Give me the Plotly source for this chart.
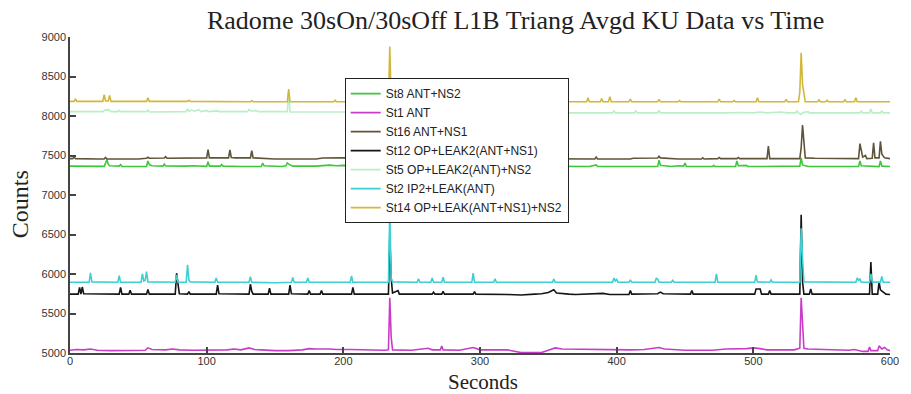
import plotly.graph_objects as go

# ---------------- data (seconds, counts) ----------------
st8 = [(0,7365),(10,7365),(20,7362),(25,7362),(26,7400),(27,7450),(28,7390),(29,7370),(36,7365),(37,7385),(38,7362),
       (50,7360),(56,7360),(57,7430),(58,7385),(60,7370),(68,7365),(69,7390),(70,7368),(85,7365),(90,7370),(100,7362),
       (101,7420),(102,7365),(110,7365),(111,7385),(112,7365),(125,7360),(140,7360),(141,7405),(142,7370),(155,7360),
       (158,7370),(159,7405),(160,7390),(163,7365),(180,7365),(190,7378),(195,7370),(200,7375),(300,7365),(380,7360),
       (385,7380),(386,7360),(430,7360),(431,7440),(432,7375),(440,7360),(445,7370),(449,7365),(450,7405),(451,7360),
       (470,7360),(471,7375),(472,7360),(487,7360),(488,7430),(489,7370),(495,7375),(496,7360),(534,7365),(535,7470),
       (536,7380),(540,7360),(577,7360),(578,7430),(579,7370),(592,7360),(593,7430),(594,7365),(600,7360)]

st1 = [(0,5035),(5,5045),(10,5040),(15,5050),(20,5035),(30,5030),(55,5035),(57,5065),(60,5045),(70,5040),(75,5050),
       (80,5040),(90,5035),(100,5035),(115,5040),(120,5050),(125,5040),(131,5065),(135,5045),(140,5040),(150,5030),
       (160,5030),(170,5040),(175,5055),(180,5050),(190,5050),(195,5045),(205,5045),(220,5035),(230,5035),(233,5040),
       (234,5700),(235,5200),(236,5040),(250,5035),(262,5060),(265,5040),(271,5040),(272,5090),(273,5040),(285,5035),
       (295,5070),(300,5040),(320,5040),(330,5005),(345,5005),(350,5035),(355,5065),(360,5050),(380,5045),(400,5045),
       (410,5040),(420,5045),(431,5070),(435,5050),(450,5035),(470,5035),(480,5050),(495,5055),(500,5065),(505,5055),
       (510,5040),(530,5040),(534,5060),(535,5700),(536,5300),(537,5060),(540,5050),(560,5045),(570,5035),(574,5045),
       (580,5020),(584,5020),(585,5075),(586,5030),(591,5030),(592,5090),(594,5050),(596,5070),(598,5040),(600,5030)]

st16 = [(0,7460),(2,7460),(3,7480),(4,7460),(20,7455),(25,7455),(26,7475),(27,7455),(50,7455),(56,7465),(57,7478),
        (58,7465),(69,7468),(70,7485),(71,7465),(85,7468),(100,7470),(101,7575),(102,7470),(116,7470),(117,7570),
        (118,7475),(121,7470),(132,7470),(133,7560),(134,7470),(140,7465),(150,7455),(180,7455),(185,7468),(200,7470),
        (300,7465),(380,7455),(384,7455),(385,7480),(386,7455),(410,7455),(412,7465),(430,7468),(431,7490),(432,7470),
        (440,7465),(445,7455),(462,7455),(463,7470),(464,7455),(474,7460),(475,7475),(476,7460),(488,7460),(489,7475),
        (490,7460),(510,7460),(511,7620),(512,7460),(534,7460),(535,7600),(536,7886),(537,7650),(538,7470),(545,7465),
        (560,7460),(577,7460),(578,7650),(579,7560),(580,7480),(582,7500),(583,7460),(587,7465),(588,7660),(589,7470),
        (592,7470),(593,7680),(594,7520),(596,7470),(600,7460)]

st12 = [(0,5745),(6,5745),(7,5830),(8,5745),(9,5835),(10,5750),(36,5745),(37,5830),(38,5745),(43,5745),(44,5795),
        (45,5745),(56,5745),(57,5805),(58,5745),(77,5745),(78,6010),(79,5850),(80,5750),(86,5745),(87,5775),(88,5745),
        (107,5745),(108,5860),(109,5750),(131,5745),(132,5870),(133,5780),(134,5745),(145,5745),(146,5820),(147,5745),
        (160,5745),(161,5860),(162,5750),(174,5745),(175,5790),(176,5745),(183,5745),(184,5790),(185,5745),(206,5745),
        (207,5830),(208,5745),(233,5745),(234,6480),(235,5950),(236,5760),(240,5790),(241,5745),(265,5745),(266,5770),
        (267,5745),(272,5745),(273,5780),(274,5745),(295,5745),(296,5775),(297,5745),(320,5740),(330,5735),(340,5745),
        (345,5750),(350,5765),(354,5800),(356,5760),(360,5750),(365,5745),(370,5740),(380,5745),(390,5755),(395,5740),
        (409,5740),(410,5790),(411,5745),(430,5750),(432,5770),(434,5750),(454,5745),(455,5790),(456,5745),(480,5745),
        (501,5745),(502,5810),(505,5810),(506,5745),(511,5745),(512,5790),(513,5745),(534,5745),(535,6750),(536,5900),
        (537,5745),(541,5745),(542,5810),(543,5745),(585,5745),(586,6150),(587,5745),(591,5745),(592,5900),(593,5800),
        (595,5770),(597,5745),(600,5740)]

st5 = [(0,8055),(20,8055),(24,8055),(26,8080),(27,8070),(28,8085),(30,8055),(35,8055),(36,8070),(37,8055),(56,8055),
       (57,8075),(58,8050),(85,8055),(86,8090),(87,8060),(89,8075),(91,8060),(94,8080),(96,8055),(100,8070),(101,8055),
       (108,8065),(109,8055),(130,8055),(131,8080),(133,8060),(136,8070),(138,8055),(159,8055),(160,8300),(161,8050),
       (200,8050),(380,8040),(397,8040),(398,8065),(399,8040),(413,8040),(414,8065),(415,8040),(430,8040),(431,8070),
       (432,8040),(480,8040),(490,8045),(500,8040),(505,8050),(510,8040),(520,8050),(525,8040),(531,8040),(532,8065),
       (533,8040),(535,8020),(536,8040),(540,8055),(541,8040),(578,8040),(579,8060),(580,8040),(585,8040),(586,8090),
       (587,8040),(593,8040),(594,8065),(595,8040),(600,8040)]

st2 = [(0,5895),(14,5895),(15,6015),(16,5900),(35,5895),(36,5980),(37,5895),(52,5895),(53,6000),(54,5910),(55,5920),
       (56,6030),(57,5900),(77,5895),(78,5990),(79,5895),(85,5895),(86,6115),(87,5920),(88,5900),(106,5895),(107,5950),
       (108,5895),(131,5895),(132,5965),(133,5895),(150,5890),(162,5895),(163,5955),(164,5895),(173,5895),(174,5950),
       (175,5895),(205,5895),(206,5975),(207,5895),(233,5895),(234,6800),(235,5950),(236,5900),(254,5895),(255,5940),
       (256,5895),(264,5895),(265,5950),(266,5895),(272,5895),(273,5960),(274,5895),(294,5895),(295,6010),(296,5895),
       (310,5895),(311,5940),(312,5895),(353,5895),(354,5935),(355,5895),(397,5895),(398,5950),(399,5910),(400,5930),
       (401,5895),(409,5895),(410,5925),(411,5895),(428,5895),(429,5945),(430,5935),(431,5895),(440,5895),(441,5920),
       (442,5895),(472,5895),(473,6000),(474,5895),(501,5895),(502,5985),(503,5900),(512,5895),(513,5925),(514,5895),
       (534,5895),(535,6580),(536,6200),(537,5900),(575,5895),(576,5950),(577,5920),(578,5935),(579,5895),(585,5895),
       (586,6000),(587,5900),(593,5895),(594,5970),(595,5895),(600,5895)]

st14 = [(0,8185),(3,8185),(4,8215),(5,8185),(24,8185),(25,8270),(26,8190),(28,8190),(29,8260),(30,8185),(56,8185),
        (57,8230),(58,8185),(86,8185),(87,8200),(88,8185),(132,8180),(133,8195),(134,8180),(159,8180),(160,8340),
        (161,8180),(193,8180),(194,8200),(195,8180),(233,8180),(234,8880),(235,8180),(300,8180),(378,8180),(379,8230),
        (380,8180),(388,8180),(389,8220),(390,8180),(394,8180),(395,8245),(396,8180),(409,8180),(410,8215),(411,8180),
        (430,8180),(431,8210),(432,8180),(445,8180),(446,8195),(447,8180),(474,8180),(475,8215),(476,8180),(485,8180),
        (486,8195),(487,8180),(502,8180),(503,8230),(504,8180),(523,8180),(524,8210),(525,8180),(533,8180),(534,8300),
        (535,8800),(536,8400),(537,8250),(538,8180),(547,8180),(548,8205),(549,8180),(553,8180),(554,8200),(555,8180),
        (566,8180),(567,8205),(568,8180),(574,8180),(575,8230),(576,8180),(600,8180)]

series_names = ["St8 ANT+NS2", "St1 ANT", "St16 ANT+NS1", "St12 OP+LEAK2(ANT+NS1)",
                "St5 OP+LEAK2(ANT)+NS2", "St2 IP2+LEAK(ANT)", "St14 OP+LEAK(ANT+NS1)+NS2"]
series_data = [st8, st1, st16, st12, st5, st2, st14]
series_colors = ["#3cc83c", "#c83cc8", "#5e5538", "#151515", "#b8efc6", "#3ecfd2", "#d2b83a"]

x_ticks = [0, 100, 200, 300, 400, 500, 600]
y_ticks = [5000, 5500, 6000, 6500, 7000, 7500, 8000, 8500, 9000]

fig = go.Figure()
for name, data, col in zip(series_names, series_data, series_colors):
    t = [p[0] for p in data]
    v = [p[1] for p in data]
    fig.add_trace(go.Scatter(x=t, y=v, mode="lines", name=name,
                             line=dict(color=col, width=1.6)))

serif = "Liberation Serif, Times New Roman, serif"
tickfont = dict(family="Liberation Sans Narrow, Liberation Sans, Arial, sans-serif", size=11, color="#333333")

fig.update_layout(
    width=911, height=394,
    margin=dict(l=70, r=14, t=37, b=41),
    paper_bgcolor="white", plot_bgcolor="white",
    title=dict(text="Radome 30sOn/30sOff L1B Triang Avgd KU Data vs Time",
               font=dict(family=serif, size=26, color="#222222"),
               x=0.566, xanchor="center", y=0.950, yanchor="middle", xref="container", yref="container"),
    xaxis=dict(range=[0, 600], tickvals=x_ticks, ticktext=[str(v) for v in x_ticks],
               showgrid=False, zeroline=False, showline=True, linecolor="#444444", linewidth=1.5,
               ticks="inside", ticklen=6, tickwidth=1.5, tickcolor="#444444", tickfont=tickfont,
               ticklabelstandoff=-3),
    yaxis=dict(range=[5000, 9000], tickvals=y_ticks, ticktext=[str(v) for v in y_ticks],
               showgrid=False, zeroline=False, showline=True, linecolor="#444444", linewidth=1.5,
               ticks="inside", ticklen=6, tickwidth=1.5, tickcolor="#444444", tickfont=tickfont),
    legend=dict(x=0.335, y=0.870, xanchor="left", yanchor="top",
                bgcolor="white", bordercolor="#222222", borderwidth=1,
                font=dict(family="Liberation Sans, Arial, sans-serif", size=12, color="#222222"),
                tracegroupgap=0, itemwidth=30),
    showlegend=True,
    annotations=[
        dict(text="Counts", xref="paper", yref="paper", x=-0.06, y=0.47, textangle=-90,
             showarrow=False, font=dict(family=serif, size=24, color="#222222"),
             xanchor="center", yanchor="middle"),
        dict(text="Seconds", xref="paper", yref="paper", x=0.504, y=-0.092,
             showarrow=False, font=dict(family=serif, size=21, color="#222222"),
             xanchor="center", yanchor="middle"),
    ],
)

fig.write_html("out.html")
